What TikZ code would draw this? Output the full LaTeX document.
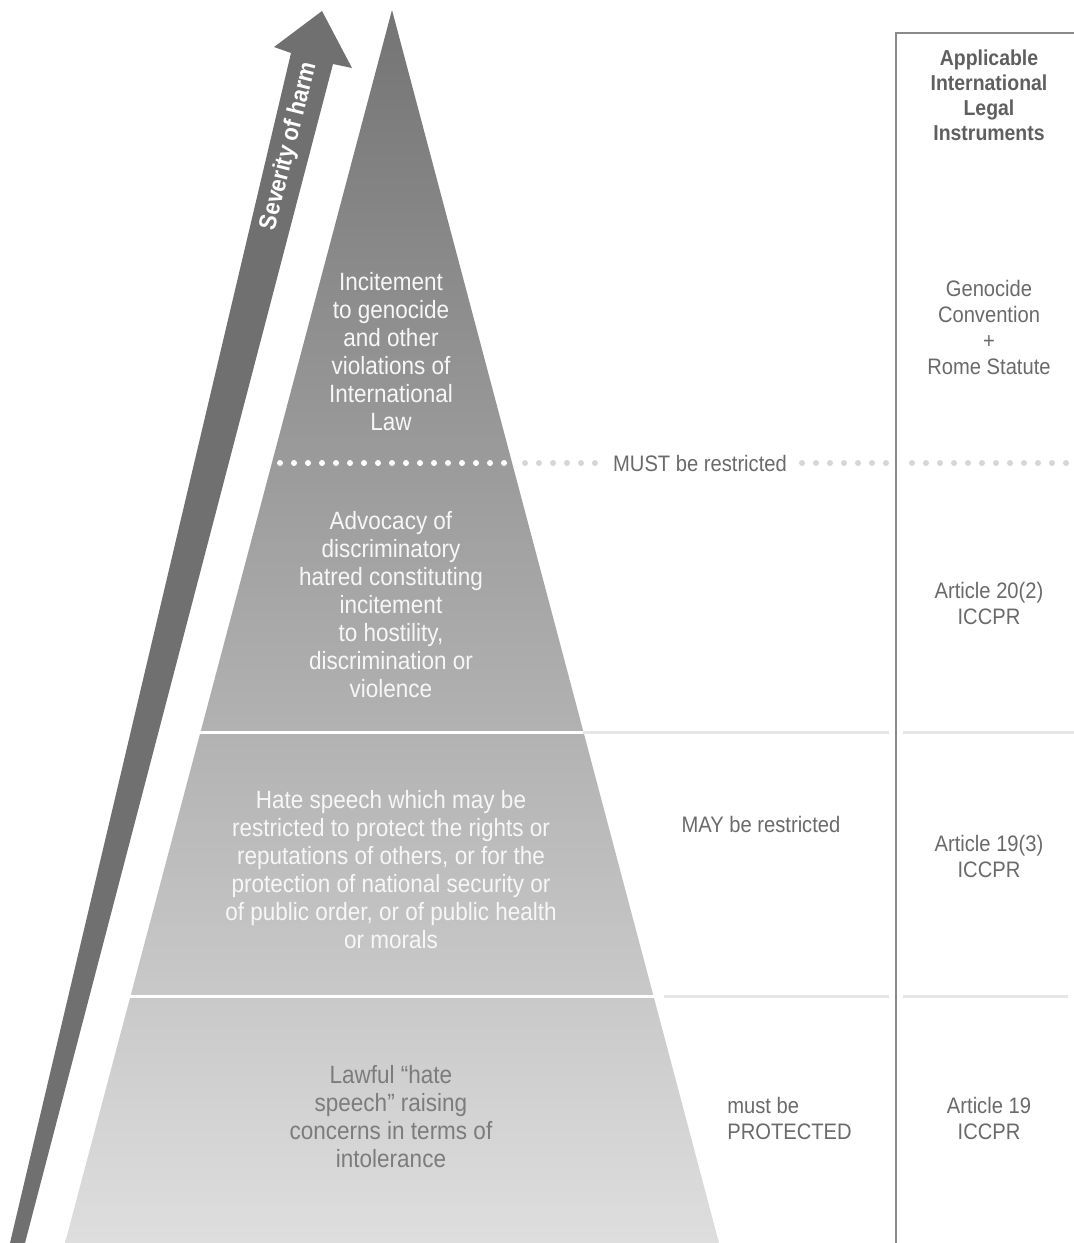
\documentclass[tikz,border=0pt]{standalone}
\usepackage{fontspec}
\setmainfont{Liberation Sans}[FakeStretch=0.9]
\usepackage{tikz}
\usetikzlibrary{positioning,calc}
\definecolor{ArrowGray}{HTML}{707070}
\definecolor{PyrTop}{HTML}{747474}
\definecolor{PyrBot}{HTML}{DEDEDE}
\definecolor{RuleGray}{HTML}{E6E6E6}
\definecolor{FrameGray}{HTML}{8A8A8A}
\definecolor{DotGray}{HTML}{D6D6D6}
\definecolor{InkGray}{HTML}{6A6A6A}
\definecolor{LowInk}{HTML}{7C7C7C}
\tikzset{
  layertext/.style={align=center,text=white!97!black,inner sep=0pt,
    font=\fontsize{12.5}{14}\selectfont},
  sidetext/.style={align=center,text=InkGray,inner sep=0pt,
    font=\fontsize{11.2}{13}\selectfont},
  headtext/.style={align=center,text=InkGray!90!black,inner sep=0pt,
    font=\fontsize{10.8}{12.5}\selectfont\bfseries},
  sepline/.style={RuleGray,line width=1.5pt},
  whitedot/.style={fill=white,draw=none},
  greydot/.style={fill=DotGray,draw=none}
}
\begin{document}
\begin{tikzpicture}[x=0.5pt,y=-0.5pt]
    \useasboundingbox (0,0) rectangle (1074,1243);

    % the pyramid
    \shade [top color=PyrTop,bottom color=PyrBot] (392,10) -- (719,1243) -- (65,1243) -- cycle;
    \draw [white,line width=1.5pt] (120,732) -- (590,732);
    \draw [white,line width=1.5pt] (100,996) -- (660,996);

    % severity arrow
    \fill [ArrowGray] (10,1243) -- (291,53) -- (274,47) -- (322,11) -- (352,68) -- (333,64) -- (25,1243) -- cycle;
    \node [rotate=76,text=white,inner sep=0pt,font=\fontsize{12.2}{14}\selectfont\bfseries] (sev) at (289,146) {Severity of harm};

    % right column
    \draw [FrameGray,line width=1pt] (1074,33) -- (896,33) -- (896,1243);
    \draw [sepline] (583,732) -- (889,732);
    \draw [sepline] (903,732) -- (1074,732);
    \draw [sepline] (664,996) -- (889,996);
    \draw [sepline] (903,996) -- (1068,996);

    % dotted limit
    \foreach \x in {280,294,...,505} \fill [whitedot] (\x,463) circle (3);
    \foreach \x in {525,539,...,596} \fill [greydot] (\x,463) circle (3);
    \foreach \x in {802,816,...,887} \fill [greydot] (\x,463) circle (3);
    \foreach \x in {912,926,...,1074} \fill [greydot] (\x,463) circle (3);

    \node [layertext] (genocide) at (391,352) {Incitement\\to genocide\\and other\\violations of\\International\\Law};
    \node [layertext] (advocacy) at (391,605) {Advocacy of\\discriminatory\\hatred constituting\\incitement\\to hostility,\\discrimination or\\violence};
    \node [layertext] (hate) at (391,870) {Hate speech which may be\\restricted to protect the rights or\\reputations of others, or for the\\protection of national security or\\of public order, or of public health\\or morals};
    \node [layertext,text=LowInk] (lawful) at (391,1117) {Lawful \textquotedblleft hate\\speech\textquotedblright{} raising\\concerns in terms of\\intolerance};

    \node [sidetext,fill=white,inner xsep=3pt] (must) at (700,463) {MUST be restricted};
    \node [sidetext] (may) at (761,824) {MAY be restricted};
    \node [sidetext,align=left,anchor=west] (protect) at (727,1118) {must be\\PROTECTED};

    \node [headtext] (instr) at (989,95) {Applicable\\International\\Legal\\Instruments};
    \node [sidetext] (rome) at (989,327) {Genocide\\Convention\\+\\Rome Statute};
    \node [sidetext] (art202) at (989,603) {Article 20(2)\\ICCPR};
    \node [sidetext] (art193) at (989,856) {Article 19(3)\\ICCPR};
    \node [sidetext] (art19) at (989,1118) {Article 19\\ICCPR};
\end{tikzpicture}
\end{document}
